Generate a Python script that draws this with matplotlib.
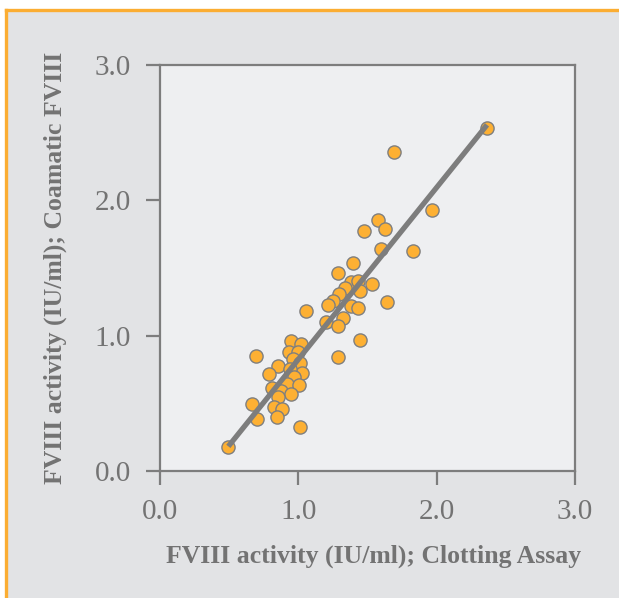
import numpy as np
import matplotlib.pyplot as plt
from matplotlib.lines import Line2D
from matplotlib.patches import Rectangle

# FVIII activity, clotting assay (x) vs Coamatic chromogenic assay (y), IU/ml
clotting = [0.494, 2.364, 1.692, 1.967, 1.576, 1.475, 1.627, 1.598, 1.832, 1.393,
            1.289, 1.379, 1.434, 1.535, 1.338, 1.446, 1.296, 1.253, 1.217, 1.381,
            1.434, 1.644, 1.056, 1.321, 1.200, 1.289, 1.446, 1.285, 0.694, 0.947,
            1.016, 0.929, 0.996, 0.850, 0.788, 0.960, 1.012, 1.030, 0.940, 0.969,
            0.916, 1.005, 0.810, 0.875, 0.945, 0.850, 0.665, 0.822, 0.882, 0.848,
            0.704, 1.009]
coamatic = [0.175, 2.535, 2.358, 1.929, 1.855, 1.774, 1.789, 1.639, 1.626, 1.535,
            1.466, 1.397, 1.404, 1.382, 1.350, 1.333, 1.308, 1.256, 1.227, 1.222,
            1.203, 1.247, 1.183, 1.133, 1.103, 1.072, 0.968, 0.845, 0.848, 0.961,
            0.935, 0.883, 0.882, 0.776, 0.717, 0.824, 0.796, 0.724, 0.754, 0.697,
            0.643, 0.636, 0.611, 0.591, 0.569, 0.545, 0.497, 0.473, 0.456, 0.401,
            0.384, 0.323]

ticks = [0.0, 1.0, 2.0, 3.0]
tick_labels = ["0.0", "1.0", "2.0", "3.0"]

grey_txt = "#737373"
grey_line = "#7d7d7d"

fig = plt.figure(figsize=(6.19, 5.98), dpi=100, facecolor="white")

# panel background with orange border on top and left
fig.patches.append(Rectangle((6 / 619, 0), 1, 1 - 10 / 598, transform=fig.transFigure,
                             facecolor="#e2e3e5", edgecolor="none", zorder=-10))
fig.lines.append(Line2D([5.5 / 619, 1], [1 - 9.5 / 598, 1 - 9.5 / 598],
                        transform=fig.transFigure, color="#fbad32", lw=2.4, zorder=-5))
fig.lines.append(Line2D([5.5 / 619, 5.5 / 619], [0, 1 - 9.5 / 598],
                        transform=fig.transFigure, color="#fbad32", lw=2.4, zorder=-5))

ax = fig.add_axes([160 / 619, 127 / 598, 415 / 619, 406 / 598])
ax.set_facecolor("#eeeff1")

x = np.array(clotting)
y = np.array(coamatic)
ax.scatter(x, y, s=90, color="#fdb033", edgecolor="#7f7f7f", linewidth=1.0, zorder=2)

coef = np.polyfit(x, y, 1)
xl = np.array([x.min(), x.max()])
ax.plot(xl, np.polyval(coef, xl), color=grey_line, lw=3.8, solid_capstyle="butt", zorder=3)

ax.set_xlim(0, 3)
ax.set_ylim(0, 3)
ax.set_xticks(ticks)
ax.set_xticklabels(tick_labels)
ax.set_yticks(ticks)
ax.set_yticklabels(tick_labels)

for s in ax.spines.values():
    s.set_color(grey_line)
    s.set_linewidth(1.6)
ax.tick_params(direction="out", length=10, width=1.6, color=grey_line,
               labelcolor=grey_txt, labelsize=21)
ax.tick_params(axis="x", pad=10.5)
ax.tick_params(axis="y", pad=11)
for lab in ax.get_xticklabels() + ax.get_yticklabels():
    lab.set_family("Liberation Serif")

ax.set_xlabel("FVIII activity (IU/ml); Clotting Assay", family="Liberation Serif",
              fontweight="bold", fontsize=18.5, color=grey_txt, labelpad=14)
ax.xaxis.label.set_x(0.515)
ax.set_ylabel("FVIII activity (IU/ml); Coamatic FVIII", family="Liberation Serif",
              fontweight="bold", fontsize=18.5, color=grey_txt, labelpad=20)

plt.savefig("out.png", dpi=100, facecolor=fig.get_facecolor())
